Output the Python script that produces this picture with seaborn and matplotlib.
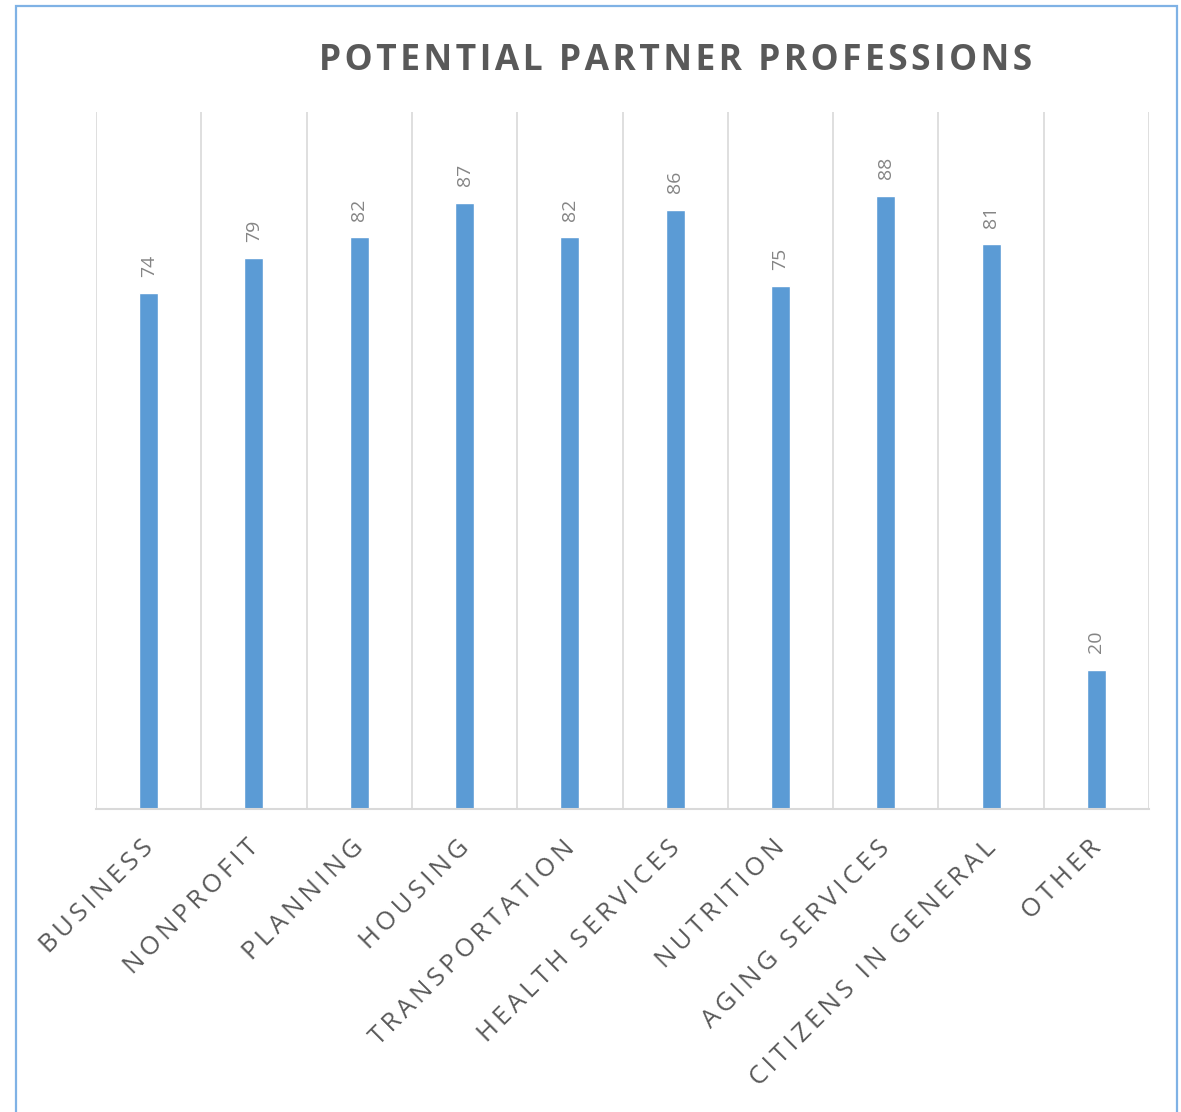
import matplotlib
matplotlib.use("Agg")
import matplotlib.pyplot as plt
import matplotlib.patches as mpatches
import matplotlib.transforms as mtransforms
import seaborn as sns
import pandas as pd

categories = ["BUSINESS", "NONPROFIT", "PLANNING", "HOUSING", "TRANSPORTATION",
              "HEALTH SERVICES", "NUTRITION", "AGING SERVICES", "CITIZENS IN GENERAL", "OTHER"]
counts = [74, 79, 82, 87, 82, 86, 75, 88, 81, 20]
title_text = "POTENTIAL PARTNER PROFESSIONS"

sns.set_theme(style="white")
plt.rcParams["font.family"] = ["Open Sans", "DejaVu Sans"]

BAR_BLUE = "#5B9BD5"
GRID = "#D9D9D9"
TEXT_DARK = "#595959"


def spaced(s, gap="\u200a"):
    return gap.join(s)


df = pd.DataFrame({"category": categories, "count": counts})

fig = plt.figure(figsize=(11.81, 11.12), dpi=100)
ax = fig.add_axes([96 / 1181, 1 - 809 / 1112, (1149 - 96) / 1181, (809 - 112) / 1112])

sns.barplot(data=df, x="category", y="count", color=BAR_BLUE, width=0.18,
            saturation=1, ax=ax)

ax.set_xlim(-0.5, len(categories) - 0.5)
ax.set_ylim(0, 100)

# vertical separators between categories
for b in range(len(categories) + 1):
    ax.axvline(b - 0.5, color=GRID, lw=1.2, zorder=0)

for side in ["top", "right", "left"]:
    ax.spines[side].set_visible(False)
ax.spines["bottom"].set_color(GRID)
ax.spines["bottom"].set_linewidth(1.5)

ax.set_yticks([])
ax.set_xlabel("")
ax.set_ylabel("")
ax.tick_params(axis="x", length=0, pad=19)
ax.set_xticks(range(len(categories)))
ax.set_xticklabels([spaced(c, "\u2009") for c in categories], rotation=45, ha="right",
                   va="top", rotation_mode="anchor", fontsize=18.5, color=TEXT_DARK)
shift = mtransforms.ScaledTranslation(-8 / 100, 0, fig.dpi_scale_trans)
for lbl in ax.get_xticklabels():
    lbl.set_transform(lbl.get_transform() + shift)

# value labels above bars
for i, v in enumerate(counts):
    ax.annotate(str(v), xy=(i, v), xytext=(0, 12), textcoords="offset points",
                rotation=90, ha="center", va="bottom", fontsize=14, color="#858585")

fig.text(676 / 1181, 1 - 61 / 1112, spaced(title_text), ha="center", va="center",
         fontsize=25.5, fontweight="bold", color=TEXT_DARK)

# chart border
border = mpatches.Rectangle((16 / 1181, -0.05), (1177 - 16) / 1181, 1 - 6 / 1112 + 0.05,
                            transform=fig.transFigure, fill=False,
                            edgecolor="#7FB2E5", linewidth=1.6)
fig.patches.append(border)

fig.savefig("out.png", dpi=100, facecolor="white")
